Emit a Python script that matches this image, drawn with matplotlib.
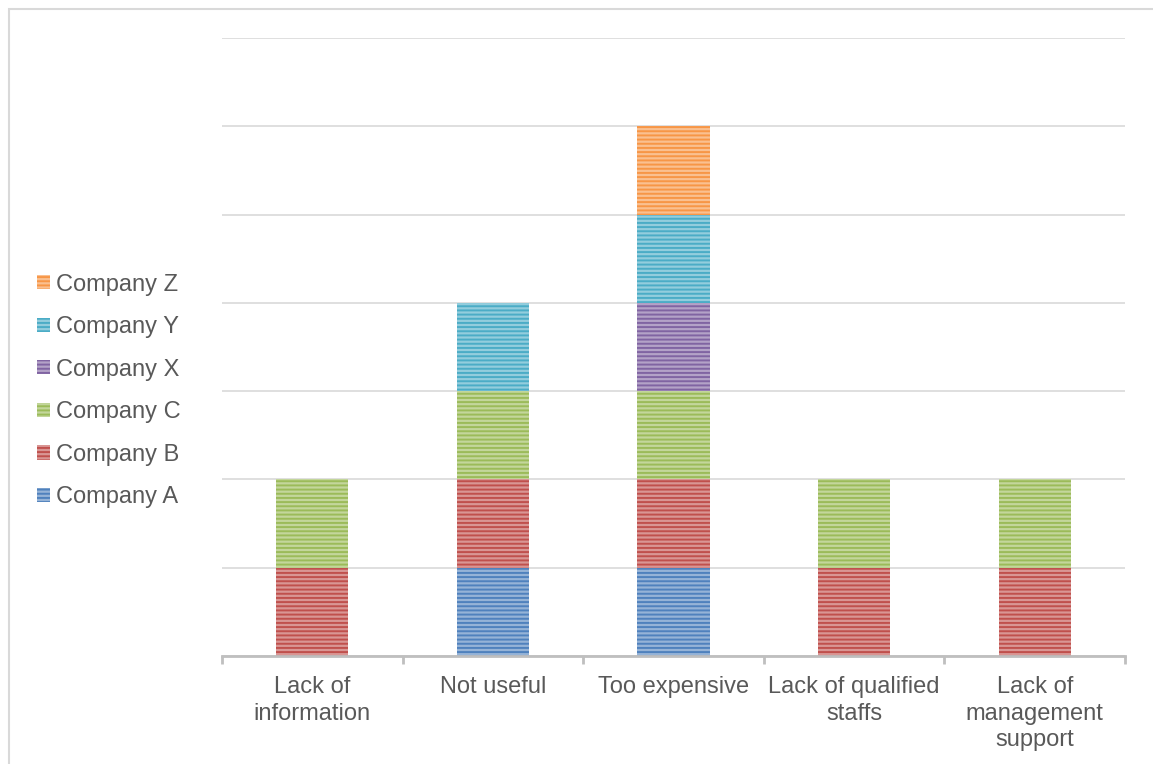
import matplotlib
matplotlib.use("Agg")
import matplotlib.pyplot as plt
import matplotlib.colors as mcolors
from matplotlib.patches import Rectangle
import numpy as np

plt.rcParams['font.family'] = ['Liberation Sans', 'DejaVu Sans']
plt.rcParams['hatch.linewidth'] = 1.4

categories = ["Lack of\ninformation", "Not useful", "Too expensive",
              "Lack of qualified\nstaffs", "Lack of\nmanagement\nsupport"]
companies = ["Company A", "Company B", "Company C", "Company X", "Company Y", "Company Z"]
company_a = [0, 1, 1, 0, 0]
company_b = [1, 1, 1, 1, 1]
company_c = [1, 1, 1, 1, 1]
company_x = [0, 0, 1, 0, 0]
company_y = [0, 1, 1, 0, 0]
company_z = [0, 0, 1, 0, 0]
series = [company_a, company_b, company_c, company_x, company_y, company_z]
colors = ["#4F81BD", "#C0504D", "#9BBB59", "#8064A2", "#4BACC6", "#F79646"]

W, H = 1153, 764
fig = plt.figure(figsize=(W / 100, H / 100), dpi=100)
ax = fig.add_axes([222 / W, 1 - 656 / H, (1125 - 222) / W, (656 - 38) / H])

x = np.arange(len(categories))
bottom = np.zeros(len(categories))
handles = []
for name, vals, c in zip(companies, series, colors):
    vals = np.array(vals, float)
    light = tuple(0.6 * v + 0.4 for v in mcolors.to_rgb(c))
    bars = ax.bar(x, vals, 0.4, bottom=bottom, color=light, edgecolor=c,
                  hatch="----", linewidth=0, label=name)
    handles.append(bars)
    bottom += vals

ax.set_xlim(-0.5, len(categories) - 0.5)
ax.set_ylim(0, 7)
ax.set_yticks(np.arange(0, 8))
ax.yaxis.grid(True, color="#D9D9D9", linewidth=1.2)
ax.set_axisbelow(True)
ax.tick_params(axis="y", left=False, labelleft=False)
for s in ["top", "right", "left"]:
    ax.spines[s].set_visible(False)
ax.spines["bottom"].set_color("#BFBFBF")
ax.spines["bottom"].set_linewidth(2)

ax.set_xticks(x)
ax.set_xticklabels(categories, fontsize=17, color="#595959", linespacing=1.27, va="top")
ax.tick_params(axis="x", which="major", length=0, pad=14.5)
ax.set_xticks(np.arange(-0.5, len(categories)), minor=True)
ax.tick_params(axis="x", which="minor", length=6, width=2, color="#BFBFBF")

fig.legend(handles[::-1], companies[::-1], loc="center left",
           bbox_to_anchor=(25 / W, 1 - 391 / H), frameon=False, fontsize=17,
           labelcolor="#595959", handlelength=0.55, handleheight=0.55,
           handletextpad=0.25, labelspacing=0.87, borderpad=0)

fig.patches.append(Rectangle((9 / W, -0.1), 1.2, 1.1 - 9 / H,
                             transform=fig.transFigure, fill=False,
                             edgecolor="#D9D9D9", linewidth=1.5))

fig.savefig("out.png", dpi=100)
